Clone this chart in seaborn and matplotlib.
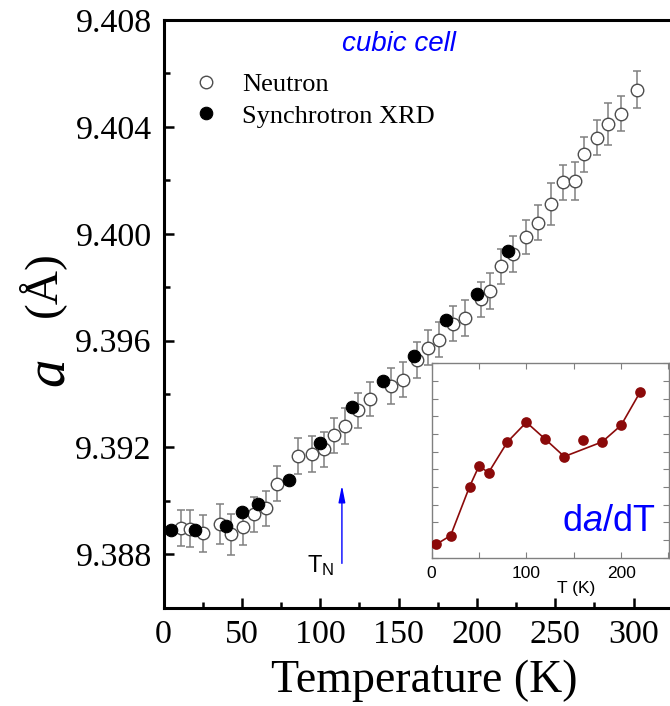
import matplotlib
matplotlib.use("Agg")
import matplotlib.pyplot as plt
import seaborn as sns
from matplotlib.ticker import MultipleLocator, NullFormatter, FormatStrFormatter
from matplotlib.lines import Line2D

# Cubic lattice parameter a (Angstrom) versus temperature (K)
neutron_T = [11, 17, 25, 36, 43, 50.5, 58, 65.5, 72.2, 85.8, 94.5, 102.6, 108.5,
             115.8, 124, 131.5, 145.3, 152.8, 161.5, 168.5, 175.7, 184.5, 192.3,
             202.4, 208.3, 215.3, 223.2, 231.3, 239.1, 247, 254.6, 262.5, 268.4,
             276.4, 283.4, 291.7, 301.9]
neutron_a = [9.38899, 9.38896, 9.38878, 9.38915, 9.38875, 9.38902, 9.38949, 9.38972,
             9.39064, 9.39168, 9.39175, 9.39193, 9.39246, 9.39280, 9.39339, 9.39382,
             9.39430, 9.39453, 9.39527, 9.39573, 9.39604, 9.39664, 9.39685, 9.39754,
             9.39786, 9.39878, 9.39925, 9.39988, 9.40042, 9.40111, 9.40193, 9.40198,
             9.40297, 9.40360, 9.40410, 9.40450, 9.40540]
neutron_err = [0.00067, 0.00068, 0.00070, 0.00075, 0.00076, 0.00068, 0.00065, 0.00065,
               0.00066, 0.00066, 0.00066, 0.00066, 0.00066, 0.00066, 0.00066, 0.00064,
               0.00066, 0.00066, 0.00066, 0.00066, 0.00066, 0.00067, 0.00067, 0.00066,
               0.00067, 0.00066, 0.00068, 0.00064, 0.00064, 0.00078, 0.00066, 0.00072,
               0.00066, 0.00066, 0.00078, 0.00066, 0.00069]

xrd_T = [5, 20, 40, 50, 60, 80, 100, 120, 140, 160, 180, 200, 220]
xrd_a = [9.38890, 9.38890, 9.38905, 9.38958, 9.38990, 9.39080, 9.39215, 9.39352,
         9.39447, 9.39543, 9.39676, 9.39773, 9.39937]

# Thermal expansion da/dT (arbitrary units) from the synchrotron data
deriv_T = [5, 20, 40, 50, 60, 80, 100, 120, 140, 160, 180, 200, 220]
deriv_val = [0.76, 1.25, 4.02, 5.19, 4.81, 6.55, 7.66, 6.70, 5.72, 6.68, 6.55, 7.49, 9.36]
deriv_line_T = [5, 20, 40, 50, 60, 80, 100, 120, 140, 180, 200, 220]
deriv_line_val = [0.76, 1.25, 4.02, 5.19, 4.81, 6.55, 7.66, 6.70, 5.72, 6.55, 7.49, 9.36]

T_N = 113.8
legend_labels = ["Neutron", "Synchrotron XRD"]

sns.set_style("white")
plt.rcParams["font.family"] = ["Liberation Serif", "DejaVu Serif"]
plt.rcParams["mathtext.fontset"] = "custom"
plt.rcParams["mathtext.rm"] = "Liberation Sans"
plt.rcParams["mathtext.it"] = "Liberation Sans:italic"
for key in ["text.color", "axes.labelcolor", "xtick.color", "ytick.color"]:
    plt.rcParams[key] = "black"

fig = plt.figure(figsize=(6.7, 7.06), dpi=100)
ax = fig.add_axes([0.2442, 0.1392, 0.7558, 0.8324])

# neutron points with error bars
ax.errorbar(neutron_T, neutron_a, yerr=neutron_err, fmt="none", ecolor="#808080",
            elinewidth=1.1, capsize=2.7, capthick=1.1, zorder=2)
sns.scatterplot(x=neutron_T, y=neutron_a, ax=ax, marker="o", s=81, color="white",
                edgecolor="#4d4d4d", linewidth=1.0, zorder=3, legend=False)
# synchrotron points
sns.scatterplot(x=xrd_T, y=xrd_a, ax=ax, marker="o", s=81, color="black",
                edgecolor="black", linewidth=0.8, zorder=4, legend=False)

ax.set_xlim(0, 323.2)
ax.set_ylim(9.386, 9.408)
ax.xaxis.set_major_locator(MultipleLocator(50))
ax.xaxis.set_minor_locator(MultipleLocator(25))
ax.yaxis.set_major_locator(MultipleLocator(0.004))
ax.yaxis.set_minor_locator(MultipleLocator(0.002))
ax.yaxis.set_major_formatter(FormatStrFormatter("%.3f"))
ax.tick_params(which="both", direction="in", bottom=True, left=True, top=False,
               right=False, width=1.8, color="black", labelcolor="black",
               labelsize=24.5)
ax.tick_params(which="major", length=7.5)
ax.tick_params(which="minor", length=4.3)
ax.tick_params(axis="y", pad=8.5)
ax.tick_params(axis="x", pad=8.5)
for side in ["left", "bottom", "top"]:
    ax.spines[side].set_linewidth(2.2)
    ax.spines[side].set_color("black")
ax.spines["right"].set_visible(False)

ax.set_xlabel("Temperature (K)", fontsize=33, va="baseline")
ax.xaxis.set_label_coords(0.5142, -0.1429)
ax.set_ylabel("(Å)", fontsize=34, va="baseline", rotation=90)
ax.yaxis.set_label_coords(-0.2145, 0.5508)
ax.text(-0.1967, 0.4011, "a", transform=ax.transAxes, fontsize=41, style="italic",
        rotation=90, rotation_mode="anchor", ha="center", va="baseline")

ax.text(0.4639, 0.9478, "cubic cell", transform=ax.transAxes, color="blue",
        fontsize=20, style="italic", family="Liberation Sans", ha="center",
        va="baseline")

handles = [
    Line2D([], [], ls="none", marker="o", ms=9, mfc="white", mec="#4d4d4d", mew=1.0),
    Line2D([], [], ls="none", marker="o", ms=9, mfc="black", mec="black", mew=0.8),
]
ax.legend(handles, legend_labels, loc="center left", bbox_to_anchor=(0.0585, 0.8639),
          frameon=False, fontsize=19, handlelength=1.0, handletextpad=0.85,
          labelspacing=0.32, borderpad=0, borderaxespad=0)

# Neel temperature marker
ax.annotate("", xy=(T_N, 9.39058), xytext=(T_N, 9.38766),
            arrowprops=dict(arrowstyle="-|>,head_length=1.0,head_width=0.2",
                            color="blue", lw=1.0, mutation_scale=10,
                            shrinkA=0, shrinkB=0))
ax.text(108.7, 9.387337, r"T$_\mathrm{N}$", fontsize=17, family="Liberation Sans",
        ha="right", va="baseline")

# inset: da/dT
dark_red = "#8b0a0a"
axi = fig.add_axes([0.6443, 0.2101, 0.3548, 0.2754])
sns.lineplot(x=deriv_line_T, y=deriv_line_val, ax=axi, color=dark_red, lw=1.2,
             zorder=2)
sns.scatterplot(x=deriv_T, y=deriv_val, ax=axi, s=59, color=dark_red,
                edgecolor=dark_red, linewidth=0, zorder=3, legend=False)
axi.set_xlim(0, 251)
axi.set_ylim(0, 11)
axi.xaxis.set_major_locator(MultipleLocator(100))
axi.xaxis.set_minor_locator(MultipleLocator(50))
axi.yaxis.set_major_locator(MultipleLocator(1))
axi.yaxis.set_major_formatter(NullFormatter())
axi.tick_params(which="both", direction="in", bottom=True, left=True, top=True,
                right=True, length=4, width=0.8, color="#808080",
                labelcolor="black", labelsize=12.5, pad=6, labelleft=False)
for lab in axi.get_xticklabels():
    lab.set_family("Liberation Sans")
for sp in axi.spines.values():
    sp.set_color("#808080")
    sp.set_linewidth(1.0)
axi.set_xlabel("T (K)", fontsize=12.5, family="Liberation Sans", va="baseline")
axi.xaxis.set_label_coords(0.607, -0.1816)
axi.set_ylabel("")
axi.text(0.547, 0.137, r"d$\mathit{a}$/dT", transform=axi.transAxes, color="blue",
         fontsize=26, family="Liberation Sans", ha="left", va="baseline")

fig.savefig("out.png", dpi=100)
